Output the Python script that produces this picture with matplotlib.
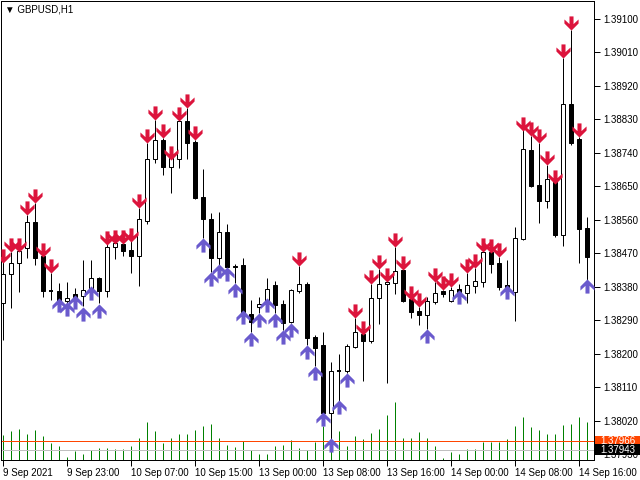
import matplotlib
matplotlib.use("Agg")
import matplotlib.pyplot as plt
import matplotlib.transforms as mtransforms
from matplotlib.path import Path
from matplotlib.patches import Rectangle

plt.rcParams['font.family'] = ['Liberation Sans', 'DejaVu Sans']

# ---- data (GBPUSD H1) ----
opens = [1.38337, 1.38415, 1.38444, 1.38485, 1.38555, 1.38463, 1.38369, 1.38369, 1.38342, 1.38361,
         1.38356, 1.38372, 1.38404, 1.38369, 1.38487, 1.38496, 1.38479, 1.38463, 1.38557, 1.38724,
         1.38775, 1.38702, 1.38724, 1.38826, 1.38770, 1.38622, 1.38563, 1.38458, 1.38528, 1.38436,
         1.38439, 1.38307, 1.38326, 1.38342, 1.38385, 1.38334, 1.38286, 1.38369, 1.38388, 1.38246,
         1.38224, 1.38041, 1.38154, 1.38154, 1.38219, 1.38254, 1.38235, 1.38350, 1.38388, 1.38391,
         1.38426, 1.38348, 1.38315, 1.38305, 1.38340, 1.38369, 1.38342, 1.38375, 1.38364, 1.38383,
         1.38393, 1.38474, 1.38444, 1.38385, 1.38367, 1.38509, 1.38748, 1.38654, 1.38611, 1.38662,
         1.38520, 1.38872, 1.38778, 1.38538]
highs = [1.38458, 1.38474, 1.38482, 1.38573, 1.38606, 1.38466, 1.38418, 1.38391, 1.38393, 1.38377,
         1.38453, 1.38453, 1.38407, 1.38498, 1.38501, 1.38498, 1.38504, 1.38592, 1.38767, 1.38829,
         1.38780, 1.38729, 1.38829, 1.38861, 1.38775, 1.38697, 1.38579, 1.38582, 1.38549, 1.38442,
         1.38458, 1.38345, 1.38353, 1.38404, 1.38396, 1.38345, 1.38375, 1.38436, 1.38393, 1.38251,
         1.38259, 1.38178, 1.38200, 1.38227, 1.38297, 1.38256, 1.38388, 1.38428, 1.38396, 1.38487,
         1.38428, 1.38350, 1.38326, 1.38353, 1.38393, 1.38372, 1.38380, 1.38388, 1.38418, 1.38431,
         1.38477, 1.38477, 1.38461, 1.38453, 1.38541, 1.38802, 1.38786, 1.38767, 1.38708, 1.38665,
         1.38995, 1.39071, 1.38783, 1.38568]
lows = [1.38238, 1.38324, 1.38367, 1.38458, 1.38439, 1.38353, 1.38345, 1.38332, 1.38337, 1.38348,
        1.38329, 1.38369, 1.38337, 1.38353, 1.38455, 1.38463, 1.38418, 1.38383, 1.38549, 1.38713,
        1.38681, 1.38633, 1.38700, 1.38724, 1.38616, 1.38512, 1.38420, 1.38439, 1.38431, 1.38391,
        1.38310, 1.38259, 1.38310, 1.38342, 1.38310, 1.38264, 1.38283, 1.38364, 1.38224, 1.38168,
        1.38039, 1.37969, 1.38041, 1.38149, 1.38216, 1.38127, 1.38229, 1.38281, 1.38122, 1.38361,
        1.38340, 1.38297, 1.38278, 1.38267, 1.38334, 1.38353, 1.38340, 1.38367, 1.38337, 1.38364,
        1.38380, 1.38418, 1.38372, 1.38377, 1.38289, 1.38506, 1.38649, 1.38552, 1.38592, 1.38514,
        1.38490, 1.38762, 1.38444, 1.38399]
closes = [1.38415, 1.38444, 1.38477, 1.38555, 1.38458, 1.38369, 1.38369, 1.38342, 1.38350, 1.38353,
          1.38372, 1.38404, 1.38369, 1.38487, 1.38498, 1.38477, 1.38463, 1.38563, 1.38724, 1.38775,
          1.38702, 1.38727, 1.38826, 1.38767, 1.38619, 1.38563, 1.38458, 1.38528, 1.38434, 1.38434,
          1.38313, 1.38286, 1.38334, 1.38375, 1.38332, 1.38283, 1.38372, 1.38388, 1.38243, 1.38216,
          1.38041, 1.38154, 1.38154, 1.38221, 1.38259, 1.38235, 1.38350, 1.38388, 1.38393, 1.38423,
          1.38342, 1.38313, 1.38305, 1.38342, 1.38364, 1.38361, 1.38372, 1.38367, 1.38385, 1.38396,
          1.38474, 1.38442, 1.38380, 1.38380, 1.38512, 1.38751, 1.38651, 1.38611, 1.38670, 1.38520,
          1.38872, 1.38767, 1.38536, 1.38461]
volumes = [1250, 1450, 1550, 1300, 1500, 1200, 850, 700, 150, 450,
           300, 500, 600, 600, 550, 550, 700, 1100, 1900, 1450,
           850, 1100, 1300, 1300, 1500, 1700, 1800, 1100, 750, 650,
           950, 500, 300, 300, 700, 750, 1000, 600, 500, 900,
           1700, 1900, 1450, 700, 1200, 1050, 1350, 1550, 2250, 2900,
           1100, 1100, 1400, 1100, 700, 100, 400, 300, 550, 550,
           900, 900, 900, 1050, 1700, 2150, 1650, 1500, 1300, 1300,
           1750, 1800, 2150, 1900]

sell_idx = [0, 1, 2, 3, 4, 5, 6, 13, 14, 15, 16, 17, 18, 19, 20, 21, 22, 23, 24, 37,
            44, 45, 46, 47, 48, 49, 50, 51, 52, 54, 55, 56, 58, 59, 60, 61, 62,
            65, 66, 67, 68, 69, 70, 71, 72]
sell_price = [1.38444, 1.38474, 1.38474, 1.38573, 1.38606, 1.38461, 1.38418, 1.38493, 1.38496, 1.38496,
              1.38501, 1.38592, 1.38767, 1.38829, 1.38780, 1.38721, 1.38826, 1.38861, 1.38775, 1.38436,
              1.38297, 1.38251, 1.38388, 1.38428, 1.38393, 1.38487, 1.38426, 1.38345, 1.38326, 1.38393,
              1.38372, 1.38380, 1.38418, 1.38431, 1.38474, 1.38471, 1.38461,
              1.38799, 1.38786, 1.38767, 1.38708, 1.38657, 1.38995, 1.39071, 1.38783]
buy_idx = [7, 8, 9, 10, 11, 12, 25, 26, 27, 28, 29, 30, 31, 32, 33, 34, 35, 36, 38, 39,
           40, 41, 42, 43, 53, 57, 63, 73]
buy_price = [1.38350, 1.38340, 1.38358, 1.38326, 1.38383, 1.38334, 1.38512, 1.38420, 1.38442, 1.38434,
             1.38391, 1.38318, 1.38259, 1.38310, 1.38350, 1.38310, 1.38264, 1.38283, 1.38224, 1.38168,
             1.38044, 1.37974, 1.38076, 1.38149, 1.38267, 1.38372, 1.38385, 1.38401]

time_label_idx = [0, 8, 16, 24, 32, 40, 48, 56, 64, 72]
time_labels = ["9 Sep 2021", "9 Sep 23:00", "10 Sep 07:00", "10 Sep 15:00", "13 Sep 00:00",
               "13 Sep 08:00", "13 Sep 16:00", "14 Sep 00:00", "14 Sep 08:00", "14 Sep 16:00"]
price_ticks = [1.39100, 1.39010, 1.38920, 1.38830, 1.38740, 1.38650, 1.38560, 1.38470,
               1.38380, 1.38290, 1.38200, 1.38110, 1.38020, 1.37930]
orange_level = 1.37966
gray_level = 1.37943
symbol_title = "GBPUSD,H1"

# ---- figure ----
fig = plt.figure(figsize=(6.4, 4.8), dpi=100)
fig.patch.set_facecolor('white')
ax = fig.add_axes([1 / 640, 20 / 480, 593 / 640, 459 / 480])
axv = ax.twinx()
ax.set_zorder(axv.get_zorder() + 1)
ax.patch.set_visible(False)
axv.patch.set_facecolor('white')

n = len(opens)
xs = list(range(n))
LW = 0.72  # one pixel at 100 dpi

# volumes
axv.vlines(xs, 0, volumes, color='#008000', linewidth=LW, snap=True)
axv.set_ylim(0, 22950)
axv.set_yticks([])
for s in axv.spines.values():
    s.set_visible(False)

# level lines
ax.axhline(orange_level, color='#FF4500', linewidth=LW, zorder=1, snap=True)
ax.axhline(gray_level, color='#C0C0C0', linewidth=LW, zorder=1, snap=True)

# wicks
ax.vlines(xs, lows, highs, color='black', linewidth=LW, zorder=2, snap=True)

# bodies
bw = 0.5
for i in xs:
    o, c = opens[i], closes[i]
    if abs(c - o) < 1e-9:
        ax.hlines(o, i - 0.3, i + 0.3, color='black', linewidth=1.4, zorder=3, snap=True)
        continue
    fc = 'white' if c > o else 'black'
    ax.bar(i, abs(c - o), bottom=min(o, c), width=bw, facecolor=fc, edgecolor='black',
           linewidth=LW, zorder=3, snap=True)

# arrow markers (chunky chevron-headed arrows)
down_verts = [(-2, 7), (2, 7), (2, -0.6), (7, 4.0), (7, 0), (0, -7),
              (-7, 0), (-7, 4.0), (-2, -0.6), (-2, 7)]
up_verts = [(x, -y) for x, y in down_verts]
down_marker = Path(down_verts, closed=True)
up_marker = Path(up_verts, closed=True)

tr_down = mtransforms.offset_copy(ax.transData, fig=fig, x=0, y=7, units='dots')
tr_up = mtransforms.offset_copy(ax.transData, fig=fig, x=0, y=-7, units='dots')
ax.plot(sell_idx, sell_price, linestyle='none', marker=down_marker, markersize=10.2,
        color='#DC143C', markeredgewidth=0, transform=tr_down, zorder=5)
ax.plot(buy_idx, buy_price, linestyle='none', marker=up_marker, markersize=10.2,
        color='#6A5ACD', markeredgewidth=0, transform=tr_up, zorder=5)

# axes
ax.set_xlim(-0.25, 73.875)
ax.set_ylim(1.37915, 1.39148)
ax.yaxis.tick_right()
ax.set_yticks(price_ticks)
ax.set_yticklabels([f"{p:.5f}" for p in price_ticks])
ax.tick_params(axis='y', direction='out', length=4, width=LW, pad=3, labelsize=7)
ax.set_xticks(time_label_idx)
ax.set_xticklabels(time_labels)
ax.tick_params(axis='x', direction='out', length=4, width=LW, pad=1.5, labelsize=7)
for lab in ax.get_xticklabels():
    lab.set_horizontalalignment('left')
for s in ax.spines.values():
    s.set_linewidth(LW)
    s.set_color('black')

# price boxes on the right
bt = mtransforms.blended_transform_factory(ax.transAxes, ax.transData)
box_w = 46 / 593
box_h = 0.00029
for lvl, col, z in [(orange_level, '#FF4500', 10), (gray_level, 'black', 11)]:
    ax.add_patch(Rectangle((1.0 + 1 / 593, lvl - box_h / 2), box_w, box_h, transform=bt,
                           facecolor=col, edgecolor='none', clip_on=False, zorder=z))
    ax.text(1.0 + 6 / 593, lvl, f"{lvl:.5f}", transform=bt, ha='left', va='center', fontsize=7,
            color='white', clip_on=False, zorder=z + 0.5)

# title
fig.text(5 / 640, 1 - 9 / 480, "\u25BC " + symbol_title, fontsize=7, ha='left', va='center',
         color='black')

fig.savefig("out.png", dpi=100, facecolor='white')
